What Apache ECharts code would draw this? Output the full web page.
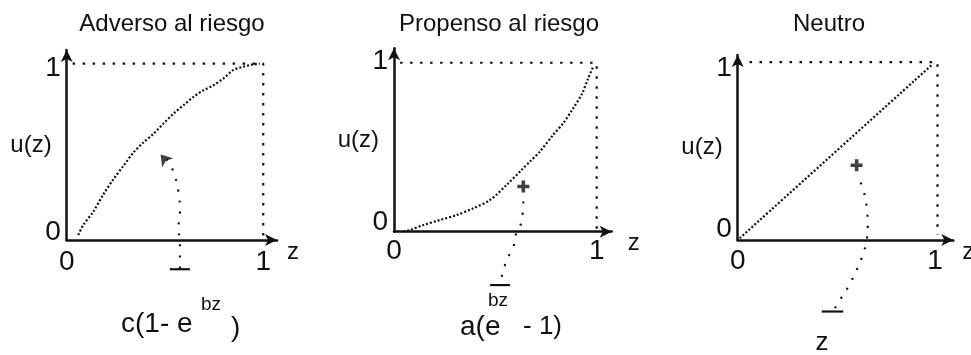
<!DOCTYPE html>
<html><head><meta charset="utf-8">
<script src="https://cdn.jsdelivr.net/npm/echarts@6/dist/echarts.min.js"></script>
<style>html,body{margin:0;padding:0;background:#fff}#c{width:971px;height:355px}</style>
</head><body><div id="c"></div>
<script>
// ---------- data ----------
const panelTitles = ['Adverso al riesgo', 'Propenso al riesgo', 'Neutro'];
const tickValues = [0, 1];
const tickLabels = ['0', '1'];
const axisNameX = 'z';
const axisNameY = 'u(z)';

// utility curves u(z)
const averseCurve = [[0.059,0.028],[0.085,0.085],[0.136,0.16],[0.186,0.255],[0.237,0.34],[0.288,0.415],[0.339,0.49],[0.39,0.547],[0.44,0.594],[0.49,0.651],[0.542,0.708],[0.593,0.755],[0.644,0.802],[0.695,0.84],[0.746,0.868],[0.797,0.906],[0.847,0.953],[0.898,0.972],[0.949,0.985],[0.983,0.99]];
const proneCurve = [[0.046,0.0],[0.079,0.01],[0.145,0.039],[0.227,0.069],[0.309,0.098],[0.391,0.138],[0.474,0.187],[0.556,0.276],[0.63,0.364],[0.671,0.413],[0.72,0.472],[0.786,0.571],[0.836,0.64],[0.885,0.728],[0.926,0.807],[0.959,0.906],[0.984,0.974]];
const neutralCurve = [[0.01,0.01],[0.99,0.99]];

// dotted frames (u = 1 and z = 1)
const averseFrame = [[0.03,0.99],[1.0,0.99],[1.0,0.0]];
const proneFrame = [[0.03,0.994],[1.0,0.994],[1.0,0.01]];
const neutralFrame = [[0.06,1.0],[1.013,1.0],[1.013,0.03]];

// annotation guides pointing to the formula
const averseGuide = [[0.576,-0.159],[0.576,0],[0.568,0.057],[0.576,0.16],[0.568,0.274],[0.542,0.387],[0.508,0.453]];
const averseBar = [[0.525,-0.164],[0.627,-0.164]];
const averseHead = [[0.478,0.48]];

const proneGuide = [[0.531,-0.265],[0.556,-0.167],[0.589,-0.088],[0.605,0],[0.63,0.06],[0.638,0.2]];
const proneBar = [[0.474,-0.314],[0.572,-0.314]];
const proneHead = [[0.638,0.266]];

const neutralGuide = [[0.493,-0.383],[0.519,-0.336],[0.561,-0.262],[0.603,-0.168],[0.637,-0.075],[0.654,0],[0.659,0.075],[0.654,0.187],[0.637,0.28],[0.611,0.355]];
const neutralBar = [[0.426,-0.402],[0.535,-0.402]];
const neutralHead = [[0.603,0.42]];

// ---------- build ----------
const ink = '#111';
const sans = '"Liberation Sans", Arial, sans-serif';
const digitFont = '"Liberation Sans Narrow", "Liberation Sans", sans-serif';

const grids = [
  {left: 66.7, top: 50, width: 210.3, height: 190},
  {left: 394, top: 48.3, width: 217.7, height: 183.4},
  {left: 737.7, top: 55, width: 215.6, height: 185}
];
const xMaxes = [1.07, 1.074, 1.093];
const yMaxes = [1.066, 1.079, 1.04];
const xLabelMargin = [8, 6, 7];
const xNameGap = [10, 16, 9];
const yShift = [[16, 14], [18, 0], [22, 12]];

const curves = [averseCurve, proneCurve, neutralCurve];
const frames = [averseFrame, proneFrame, neutralFrame];
const guides = [averseGuide, proneGuide, neutralGuide];
const bars = [averseBar, proneBar, neutralBar];
const heads = [averseHead, proneHead, neutralHead];

const plusPath = 'path://M3.5,0H6.5V3.5H10V6.5H6.5V10H3.5V6.5H0V3.5H3.5Z';

const xAxis = grids.map((g, i) => ({
  gridIndex: i, type: 'value', min: 0, max: xMaxes[i],
  axisLine: {show: true, onZero: false, symbol: ['none', 'arrow'], symbolSize: [9, 12], lineStyle: {color: ink, width: 2.5}},
  axisTick: {show: false}, splitLine: {show: false},
  axisLabel: {customValues: tickValues, formatter: v => tickLabels[tickValues.indexOf(v)], margin: xLabelMargin[i],
    fontFamily: digitFont, fontSize: 28, color: ink},
  name: axisNameX, nameLocation: 'end', nameGap: xNameGap[i], nameMoveOverlap: false,
  nameTextStyle: {fontFamily: sans, fontSize: 24, color: ink, align: 'left', verticalAlign: 'top'}
}));

const yAxis = grids.map((g, i) => ({
  gridIndex: i, type: 'value', min: 0, max: yMaxes[i],
  axisLine: {show: true, onZero: false, symbol: ['none', 'arrow'], symbolSize: [9, 12], lineStyle: {color: ink, width: 2.5}},
  axisTick: {show: false}, splitLine: {show: false},
  axisLabel: {customValues: tickValues, margin: 6,
    formatter: v => (v === 0 ? '{lo|' : '{hi|') + tickLabels[tickValues.indexOf(v)] + '}',
    rich: {
      lo: {fontFamily: digitFont, fontSize: 28, color: ink, padding: [0, 0, yShift[i][0], 0]},
      hi: {fontFamily: digitFont, fontSize: 28, color: ink, padding: [yShift[i][1], 0, 0, 0]}
    }},
  name: axisNameY, nameLocation: 'middle', nameRotate: 0, nameGap: 15, nameMoveOverlap: false,
  nameTextStyle: {fontFamily: sans, fontSize: 24, color: ink}
}));

const series = [];
grids.forEach((g, i) => {
  series.push({type: 'line', xAxisIndex: i, yAxisIndex: i, data: curves[i], smooth: 0.3, symbol: 'none', silent: true,
    lineStyle: {color: ink, width: 2.2, type: [2, 2]}});
  series.push({type: 'line', xAxisIndex: i, yAxisIndex: i, data: frames[i], symbol: 'none', silent: true, clip: false,
    lineStyle: {color: ink, width: 2.2, type: [2.5, 7.5]}});
  series.push({type: 'line', xAxisIndex: i, yAxisIndex: i, data: guides[i], smooth: 0.4, symbol: 'none', silent: true, clip: false,
    lineStyle: {color: ink, width: 2.2, type: [2, 9]}});
  series.push({type: 'line', xAxisIndex: i, yAxisIndex: i, data: bars[i], symbol: 'none', silent: true, clip: false,
    lineStyle: {color: ink, width: 2.2}});
  series.push({type: 'scatter', xAxisIndex: i, yAxisIndex: i, data: heads[i], silent: true, clip: false,
    symbol: i === 0 ? 'arrow' : plusPath, symbolRotate: i === 0 ? 40 : 0, symbolSize: i === 0 ? 11 : 12,
    itemStyle: {color: ink}});
});

function txt(text, x, y, size, align) {
  return {type: 'text', x: x, y: y, silent: true,
    style: {text: text, font: size + 'px ' + sans, fill: ink,
      textAlign: align, align: align, textVerticalAlign: 'middle', verticalAlign: 'middle'}};
}

const graphic = [
  txt(panelTitles[0], 172, 24, 24, 'center'),
  txt(panelTitles[1], 499, 24, 24, 'center'),
  txt(panelTitles[2], 829, 24, 24, 'center'),
  // formula 1: c(1- e^bz)
  txt('c(1- e', 121, 324, 28, 'left'),
  txt('bz', 201, 305, 19, 'left'),
  txt(')', 231, 328, 28, 'left'),
  // formula 2: a(e^bz - 1)
  txt('a(e', 460, 327, 28, 'left'),
  txt('bz', 488, 301, 19, 'left'),
  txt('- 1)', 523, 327, 26, 'left'),
  // formula 3
  txt('z', 822, 343, 26, 'center')
];

const chart = echarts.init(document.getElementById('c'), null, {renderer: 'canvas'});
chart.setOption({
  animation: false,
  backgroundColor: '#fff',
  grid: grids.map(g => Object.assign({containLabel: false, outerBoundsMode: 'none'}, g)),
  xAxis: xAxis,
  yAxis: yAxis,
  series: series,
  graphic: graphic
});
</script>
</body></html>
